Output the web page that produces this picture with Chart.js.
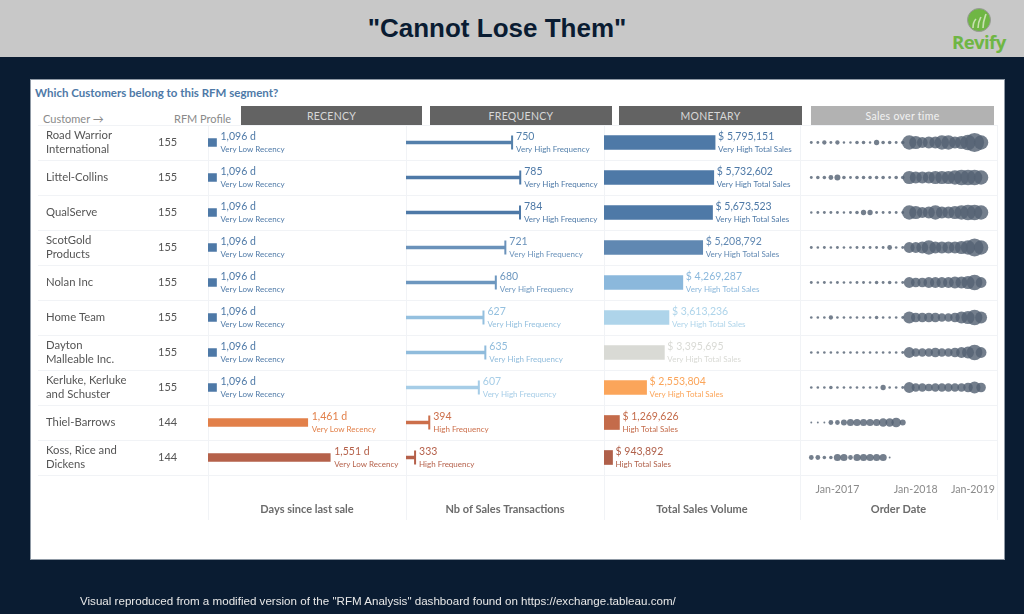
<!DOCTYPE html>
<html>
<head>
<meta charset="utf-8">
<title>Cannot Lose Them</title>
<script src="https://cdn.jsdelivr.net/npm/chart.js@4"></script>
<style>
    html, body { margin: 0; padding: 0; }
    body { width: 1024px; height: 614px; background: #0a1c32; position: relative; overflow: hidden; font-family: Lato, sans-serif; filter: blur(0.35px); }
    .band { position: absolute; left: 0; top: 0; width: 1024px; height: 57px; background: #c8c8c8; }
    .title { position: absolute; left: 0; top: 13px; width: 994px; text-align: center; font: bold 26px "Liberation Sans", Arial, sans-serif; color: #0a1c32; }
    .logo-text { position: absolute; left: 952px; top: 29px; font: bold 18.6px "Open Sans", sans-serif; letter-spacing: -0.6px; color: #6fb644; }
    .logo { position: absolute; left: 966px; top: 8px; }
    .panel { position: absolute; left: 31px; top: 80px; width: 973px; height: 479px; background: #fff; outline: 1px solid #8f99a5; }
    .heading { position: absolute; left: 35px; top: 86px; font-weight: bold; font-size: 11.5px; color: #4e79a7; }
    .col-label { position: absolute; top: 111.5px; font-size: 11px; color: #8a8a8a; }
    .head-box { position: absolute; top: 106px; height: 20px; line-height: 20px; text-align: center; font-size: 10.5px; letter-spacing: 0.3px; background: #636363; color: #d8d8d8; }
    .head-box.light { background: #b2b2b2; color: #f2f2f2; }
    .divider { position: absolute; top: 125px; width: 1px; height: 395px; background: #f1f3f6; }
    canvas { position: absolute; top: 124px; }
    .footer { position: absolute; left: 80px; top: 594px; font: 11.6px "Liberation Sans", Arial, sans-serif; color: #e8e8e8; }
</style>
</head>
<body>
<div class="band"></div>
<div class="title">"Cannot Lose Them"</div>
<svg class="logo" width="26" height="26" viewBox="0 0 26 26">
    <circle cx="13" cy="12" r="11.5" fill="#6fb644" stroke="#999" stroke-width="1"/>
    <path d="M7 20 C7 14 9 12 10 11 M12 20 C12 14 14 11 15 9 M17 20 C17 13 19 9 20 6" fill="none" stroke="#c8e0b0" stroke-width="1.6"/>
</svg>
<div class="logo-text">Revify</div>
<div class="panel"></div>
<div class="heading">Which Customers belong to this RFM segment?</div>
<div class="col-label" style="left:43px">Customer →</div>
<div class="col-label" style="left:174px">RFM</div>
<div class="col-label" style="left:200px">Profile</div>
<div class="head-box" style="left:241px;width:181px">RECENCY</div>
<div class="head-box" style="left:430px;width:182px">FREQUENCY</div>
<div class="head-box" style="left:619px;width:183px">MONETARY</div>
<div class="head-box light" style="left:811px;width:183px">Sales over time</div>
<div class="divider" style="left:208px"></div>
<div class="divider" style="left:406px"></div>
<div class="divider" style="left:604px"></div>
<div class="divider" style="left:800px"></div>
<div class="divider" style="left:997px"></div>
<canvas id="recencyChart" width="368" height="396" style="left:38px"></canvas>
<canvas id="frequencyChart" width="198" height="396" style="left:406px"></canvas>
<canvas id="monetaryChart" width="196" height="396" style="left:604px"></canvas>
<canvas id="salesChart" width="197" height="396" style="left:800px"></canvas>
<div class="footer">Visual reproduced from a modified version of the "RFM Analysis" dashboard found on https://exchange.tableau.com/</div>

<script>
const customerLines = [
    ['Road Warrior', 'International'], ['Littel-Collins'], ['QualServe'], ['ScotGold', 'Products'], ['Nolan Inc'],
    ['Home Team'], ['Dayton', 'Malleable Inc.'], ['Kerluke, Kerluke', 'and Schuster'], ['Thiel-Barrows'], ['Koss, Rice and', 'Dickens']
];
const rfmScores = ['155', '155', '155', '155', '155', '155', '155', '155', '144', '144'];

const recencyDays = [1096, 1096, 1096, 1096, 1096, 1096, 1096, 1096, 1461, 1551];
const frequencyCounts = [750, 785, 784, 721, 680, 627, 635, 607, 394, 333];
const monetaryTotals = [5795151, 5732602, 5673523, 5208792, 4269287, 3613236, 3395695, 2553804, 1269626, 943892];

const recencyClasses = ['Very Low Recency', 'Very Low Recency', 'Very Low Recency', 'Very Low Recency', 'Very Low Recency',
    'Very Low Recency', 'Very Low Recency', 'Very Low Recency', 'Very Low Recency', 'Very Low Recency'];
const frequencyClasses = ['Very High Frequency', 'Very High Frequency', 'Very High Frequency', 'Very High Frequency', 'Very High Frequency',
    'Very High Frequency', 'Very High Frequency', 'Very High Frequency', 'High Frequency', 'High Frequency'];
const monetaryClasses = ['Very High Total Sales', 'Very High Total Sales', 'Very High Total Sales', 'Very High Total Sales', 'Very High Total Sales',
    'Very High Total Sales', 'Very High Total Sales', 'Very High Total Sales', 'High Total Sales', 'High Total Sales'];

const recencyColors = ['#4e79a7', '#4e79a7', '#4e79a7', '#4e79a7', '#4e79a7', '#4e79a7', '#4e79a7', '#4e79a7', '#e2804a', '#b5614a'];
const frequencyColors = ['#5480ab', '#4e79a7', '#4e79a7', '#6a92ba', '#6d97bf', '#94c0df', '#90bcdc', '#a6cde7', '#cc6f4b', '#b5604a'];
const monetaryColors = ['#4e79a7', '#4e79a7', '#4e79a7', '#6088b2', '#8bb8dc', '#aed4ea', '#d9dad5', '#fba55a', '#c46b4a', '#b0604a'];

// order months, Sep-2016 onward
const orderMonths = ['Sep-2016', 'Oct-2016', 'Nov-2016', 'Dec-2016', 'Jan-2017', 'Feb-2017', 'Mar-2017', 'Apr-2017', 'May-2017',
    'Jun-2017', 'Jul-2017', 'Aug-2017', 'Sep-2017', 'Oct-2017', 'Nov-2017', 'Dec-2017', 'Jan-2018', 'Feb-2018', 'Mar-2018',
    'Apr-2018', 'May-2018', 'Jun-2018', 'Jul-2018', 'Aug-2018', 'Sep-2018', 'Oct-2018', 'Nov-2018'];

// monthly sales in $k, per customer
const monthlySales = [
    [18, 18, 41, 18, 41, 13, 13, 28, 28, 13, 61, 28, 28, 18, 28, 454, 381, 255, 315, 315, 454, 454, 315, 381, 532, 806, 454],
    [18, 28, 28, 50, 79, 28, 18, 28, 28, 28, 28, 28, 18, 28, 28, 381, 315, 315, 315, 381, 381, 381, 454, 532, 532, 532, 454],
    [13, 18, 18, 18, 18, 13, 18, 28, 61, 61, 18, 18, 18, 18, 18, 454, 381, 255, 315, 454, 315, 315, 381, 454, 532, 532, 454],
    [18, 15, 18, 15, 18, 15, 15, 18, 18, 18, 18, 18, 50, 15, 18, 255, 255, 315, 454, 315, 315, 315, 315, 381, 454, 709, 454],
    [18, 15, 18, 15, 18, 15, 15, 18, 18, 15, 28, 18, 28, 15, 18, 255, 202, 202, 255, 255, 255, 255, 315, 315, 381, 532, 255],
    [15, 15, 15, 41, 15, 15, 15, 15, 15, 15, 28, 15, 15, 15, 18, 315, 202, 202, 202, 202, 154, 154, 202, 315, 381, 532, 315],
    [15, 15, 15, 15, 15, 15, 15, 15, 15, 15, 15, 15, 15, 15, 18, 255, 154, 154, 154, 202, 154, 154, 202, 255, 315, 532, 255],
    [15, 15, 15, 28, 15, 15, 15, 15, 15, 15, 15, 61, 15, 15, 18, 255, 154, 154, 129, 154, 154, 154, 154, 154, 202, 315, 202],
    [8, 8, 8, 50, 50, 79, 113, 113, 113, 113, 113, 154, 154, 202, 79, null, null, null, null, null, null, null, null, null, null, null, null],
    [50, 50, 28, 28, 113, 113, 50, 113, 113, 113, 113, 113, 8, null, null, null, null, null, null, null, null, null, null, null, null, null, null]
];

const timeTickLabels = ['Jan-2017', 'Jan-2018', 'Jan-2019'];
const timeTickSpots = [4, 16, 24.76];

const customers = customerLines.map(l => l.join(' '));
const textFont = 'Lato';
const axisGrey = '#6b6b6b';
const rowLine = '#f1f3f6';

Chart.defaults.font.family = textFont;
Chart.defaults.animation = false;
Chart.defaults.devicePixelRatio = 1;

function valueLabelPlugin(values, classes, colors, formatValue) {
    return {
        id: 'valueLabels',
        afterDatasetsDraw(chart) {
            const ctx = chart.ctx;
            const bars = chart.getDatasetMeta(0).data;
            ctx.save();
            ctx.textAlign = 'left';
            ctx.textBaseline = 'middle';
            bars.forEach((bar, i) => {
                ctx.fillStyle = colors[i];
                ctx.font = `10.5px ${textFont}`;
                ctx.fillText(formatValue(values[i]), bar.x + chart.options.labelGap, bar.y - 5.5);
                ctx.font = `8px ${textFont}`;
                ctx.fillText(classes[i], bar.x + chart.options.labelGap, bar.y + 6.5);
            });
            ctx.restore();
        }
    };
}

// closing tick on the frequency lines
const capPlugin = {
    id: 'barCaps',
    afterDatasetsDraw(chart) {
        const ctx = chart.ctx;
        chart.getDatasetMeta(0).data.forEach((bar, i) => {
            ctx.fillStyle = frequencyColors[i];
            ctx.fillRect(bar.x - 1, bar.y - 7, 2, 14);
        });
    }
};

function rowGrid() {
    return { color: rowLine, offset: true, drawTicks: true, tickLength: 0 };
}

function fitRowAxis(scale, width) {
    scale.width = width;
    scale.paddingTop = 0;
    scale.paddingBottom = 0;
}

function fitBottomAxis(scale) {
    scale.height = 45;
    scale.paddingLeft = 0;
    scale.paddingRight = 0;
}

function xTitle(text) {
    return { display: true, text: text, color: axisGrey, font: { size: 11, weight: 'bold' }, padding: { top: 0, bottom: 4 } };
}

function xAxis(titleText, min, max) {
    return {
        type: 'linear',
        min: min,
        max: max,
        grid: { display: false, drawTicks: false },
        border: { display: false },
        ticks: { display: false },
        title: xTitle(titleText),
        afterFit: fitBottomAxis
    };
}

function makeBarChart(canvasId, values, colors, thickness, x, extra) {
    const scales = {
        x: x,
        y: {
            type: 'category',
            offset: true,
            grid: rowGrid(),
            border: { display: false },
            ticks: { display: false },
            afterFit: s => fitRowAxis(s, 0)
        }
    };
    Object.assign(scales, extra.scales || {});
    return new Chart(document.getElementById(canvasId), {
        type: 'bar',
        data: {
            labels: customerLines,
            datasets: [{
                data: values,
                backgroundColor: colors,
                barThickness: thickness,
                xAxisID: 'x',
                yAxisID: 'y'
            }]
        },
        options: {
            indexAxis: 'y',
            responsive: false,
            labelGap: extra.gap,
            layout: { autoPadding: false, padding: { top: 1, left: extra.paddingLeft || 0 } },
            plugins: { legend: { display: false }, tooltip: { enabled: false } },
            scales: scales
        },
        plugins: extra.plugins
    });
}

// first column also carries the customer names and RFM scores
const recencyAxes = {
    y: {
        type: 'category',
        offset: true,
        weight: 1,
        grid: { color: rowLine, offset: true, tickLength: 120 },
        border: { display: false },
        ticks: { crossAlign: 'far', autoSkip: false, color: '#555', font: { size: 11.3, lineHeight: 1.25 }, padding: 0 },
        afterFit: s => fitRowAxis(s, 112)
    },
    rfm: {
        type: 'category',
        axis: 'y',
        position: 'left',
        labels: rfmScores,
        offset: true,
        weight: 0,
        grid: { color: rowLine, offset: true, drawOnChartArea: false, tickLength: 50 },
        border: { display: false },
        ticks: { crossAlign: 'far', autoSkip: false, color: '#555', font: { size: 11 }, padding: 0 },
        afterFit: s => fitRowAxis(s, 50)
    }
};

makeBarChart('recencyChart', recencyDays, recencyColors, 8, xAxis('Days since last sale', 1062, 1854), {
    gap: 4,
    paddingLeft: 8,
    scales: recencyAxes,
    plugins: [valueLabelPlugin(recencyDays, recencyClasses, recencyColors, v => v.toLocaleString('en-US') + ' d')]
});

makeBarChart('frequencyChart', frequencyCounts, frequencyColors, 3, xAxis('Nb of Sales Transactions', 294, 1145), {
    gap: 4,
    plugins: [capPlugin, valueLabelPlugin(frequencyCounts, frequencyClasses, frequencyColors, v => String(v))]
});

makeBarChart('monetaryChart', monetaryTotals, monetaryColors, 14, xAxis('Total Sales Volume', 540000, 9810800), {
    gap: 3,
    plugins: [valueLabelPlugin(monetaryTotals, monetaryClasses, monetaryColors, v => '$ ' + v.toLocaleString('en-US'))]
});

const salesPoints = [];
monthlySales.forEach((row, c) => {
    row.forEach((v, m) => {
        if (v !== null) salesPoints.push({ x: m, y: customers[c], month: orderMonths[m], r: Math.sqrt(v / 8.75) });
    });
});

new Chart(document.getElementById('salesChart'), {
    type: 'bubble',
    data: {
        datasets: [{
            data: salesPoints,
            backgroundColor: 'rgba(86, 99, 116, 0.82)',
            borderWidth: 0,
            clip: false
        }]
    },
    options: {
        responsive: false,
        layout: { autoPadding: false, padding: { top: 1 } },
        plugins: { legend: { display: false }, tooltip: { enabled: false } },
        scales: {
            x: {
                type: 'linear',
                min: -1.73,
                max: 28.44,
                grid: { display: false, drawTicks: false },
                border: { display: false },
                afterBuildTicks: s => { s.ticks = timeTickSpots.map(v => ({ value: v })); },
                ticks: {
                    autoSkip: false,
                    maxRotation: 0,
                    padding: 8,
                    color: '#8a8a8a',
                    font: { size: 10.6 },
                    callback: v => timeTickLabels[timeTickSpots.indexOf(v)]
                },
                title: xTitle('Order Date'),
                afterFit: fitBottomAxis
            },
            y: {
                type: 'category',
                labels: customers,
                offset: true,
                grid: rowGrid(),
                border: { display: false },
                ticks: { display: false },
                afterFit: s => fitRowAxis(s, 0)
            }
        }
    }
});
</script>
</body>
</html>
